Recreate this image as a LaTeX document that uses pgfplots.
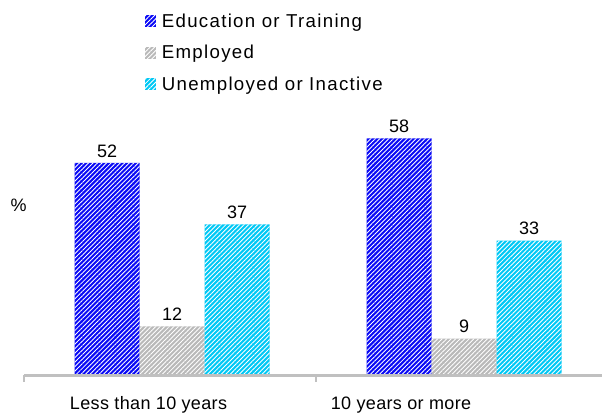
\documentclass[border=0pt]{standalone}
\usepackage{fontspec}
\setmainfont{Liberation Sans}
\newfontfamily\legfont[LetterSpace=7]{Liberation Sans}
\newfontfamily\labfont[LetterSpace=2]{Liberation Sans}
\usepackage{pgfplots}
\pgfplotsset{compat=1.18}
\usetikzlibrary{patterns.meta,calc}
\definecolor{cblue}{RGB}{10,10,245}
\definecolor{cgray}{RGB}{185,185,185}
\definecolor{ccyan}{RGB}{0,200,245}
\definecolor{axgray}{RGB}{192,192,192}
\begin{document}
\begin{tikzpicture}
\begin{axis}[
  name=ax,
  scale only axis,
  width=438pt, height=183.9pt,
  xmin=-0.5, xmax=1.5,
  ymin=0, ymax=60,
  clip=false,
  axis lines=none,
  ybar=0pt,
  bar width=48.75pt,
  xtick=\empty, ytick=\empty,
  /pgf/number format/assume math mode=true,
  nodes near coords,
  every node near coord/.append style={font=\fontsize{13.5}{16}\selectfont, black, inner sep=4pt},
  legend style={draw=none, fill=none, at={(rel axis cs:0.207,1.488)}, anchor=north west,
    font=\fontsize{14}{16}\selectfont\legfont, row sep=8pt, inner sep=0pt,
    /tikz/every odd column/.append style={column sep=2pt}},
  legend cell align=left,
  legend image code/.code={\fill[#1] (0pt,-4.5pt) rectangle (8.5pt,4.5pt);},
]
\addplot[draw=none, fill=cblue, postaction={pattern={Lines[angle=45,distance=2.4pt,line width=0.65pt]}, pattern color=white}] coordinates {(0.007,52) (1.007,58)};
\addplot[draw=none, fill=cgray, postaction={pattern={Lines[angle=45,distance=2.4pt,line width=0.65pt]}, pattern color=white}] coordinates {(0.007,12) (1.007,9)};
\addplot[draw=none, fill=ccyan, postaction={pattern={Lines[angle=45,distance=2.4pt,line width=0.65pt]}, pattern color=white}] coordinates {(0.007,37) (1.007,33)};
\legend{Education or Training, Employed, Unemployed or Inactive}
\coordinate (bl) at (rel axis cs:0,0);
\draw[axgray, line width=2.25pt] (rel axis cs:0,0) -- (rel axis cs:1,0);
\draw[axgray, line width=2pt] (axis cs:-0.5,0) -- ([yshift=-5pt]axis cs:-0.5,0);
\draw[axgray, line width=2pt] (axis cs:0.5,0) -- ([yshift=-5pt]axis cs:0.5,0);
\draw[axgray, line width=2pt] (axis cs:1.5,0) -- ([yshift=-5pt]axis cs:1.5,0);
\node[font=\fontsize{13.5}{16}\selectfont\labfont, xshift=93.4pt, yshift=-22pt] at (rel axis cs:0,0) {Less than 10 years};
\node[font=\fontsize{13.5}{16}\selectfont\labfont, xshift=282.75pt, yshift=-22pt] at (rel axis cs:0,0) {10 years or more};
\node[font=\fontsize{13.5}{16}\selectfont, xshift=-4pt, yshift=127.5pt] at (rel axis cs:0,0) {\%};
\end{axis}
\pgfresetboundingbox
\path ($(bl)+(-18pt,-32.6pt)$) rectangle ($(bl)+(433.5pt,281.6pt)$);
\end{tikzpicture}
\end{document}
